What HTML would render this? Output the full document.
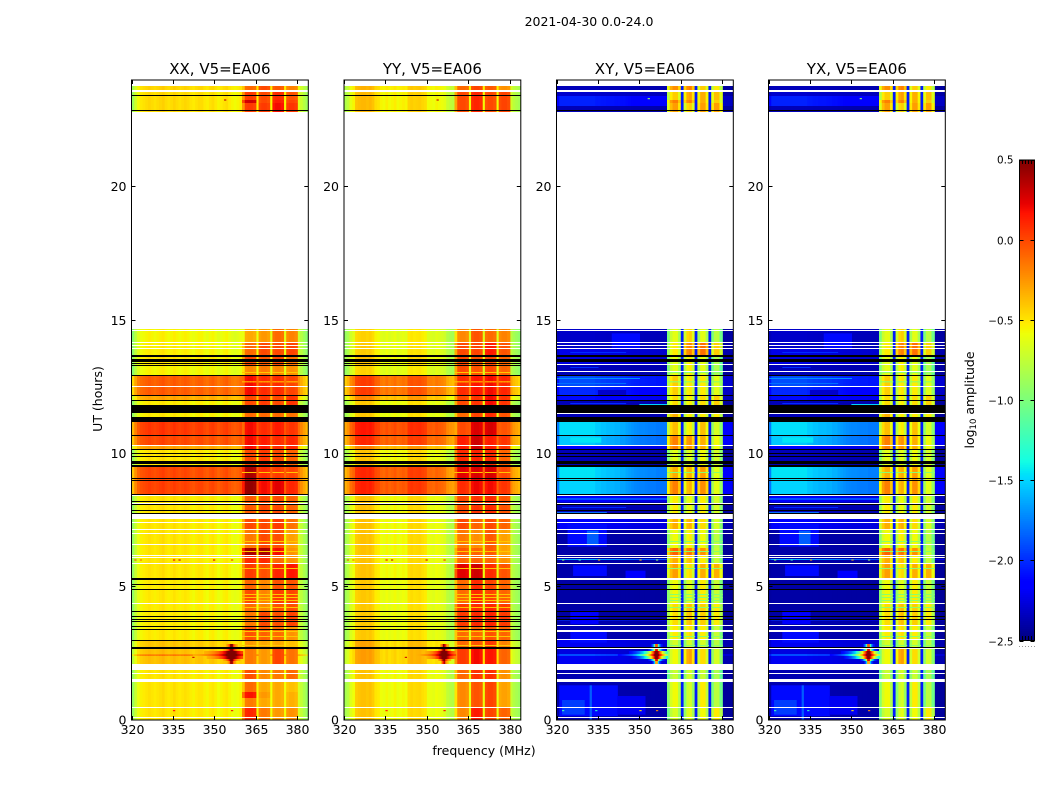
<!DOCTYPE html>
<html>
<head>
<meta charset="utf-8">
<title>2021-04-30 0.0-24.0</title>
<style>
html,body{margin:0;padding:0;background:#fff;width:1050px;height:800px;overflow:hidden}
svg{display:block}
text{font-family:"DejaVu Sans","Liberation Sans",sans-serif;fill:#000}
</style>
</head>
<body>
<svg id="figure" xmlns="http://www.w3.org/2000/svg" width="1050" height="800" viewBox="0 0 1050 800">
<rect x="0" y="0" width="1050" height="800" fill="#fff"/>
<text x="589" y="26" font-size="12.5" text-anchor="middle">2021-04-30 0.0-24.0</text>
<text x="484" y="755" font-size="12.5" text-anchor="middle">frequency (MHz)</text>
<text x="102" y="399" font-size="12.5" text-anchor="middle" transform="rotate(-90 102 399)">UT (hours)</text>
<text x="974" y="400" font-size="12.5" text-anchor="middle" transform="rotate(-90 974 400)">log<tspan font-size="8.5" dy="2">10</tspan><tspan dy="-2"> amplitude</tspan></text>
<g id="panels"></g>
<g id="colorbar"></g>
</svg>
<script>
// ---- axis ticks ----
const freqTicks = [320, 335, 350, 365, 380];
const utTicks = [0, 5, 10, 15, 20];
const colorTicks = [0.5, 0, -0.5, -1, -1.5, -2, -2.5];
const panelNames = ["XX", "YY", "XY", "YX"];

// ---- per-channel bandpass (log10 amplitude, one value per MHz from 320) ----
const xxProfile = [
-.9,-.72,-.6,-.54,-.52,-.5,-.48,-.5,-.52,-.5,
-.48,-.46,-.5,-.52,-.5,-.47,-.5,-.52,-.5,-.48,
-.5,-.53,-.55,-.52,-.5,-.5,-.54,-.56,-.52,-.5,
-.54,-.58,-.55,-.52,-.5,-.55,-.58,-.6,-.58,-.55,
-.5,-.5,-.5,-.5,-.5,-.55,-.5,-.5,-.5,-.5,
-.58,-.5,-.5,-.5,-.5,-.58,-.5,-.5,-.5,-.5,
-.66,-.74,-.82,-.9];
const yyProfile = [
-.85,-.78,-.64,-.58,-.42,-.4,-.38,-.38,-.4,-.38,
-.42,-.5,-.52,-.58,-.6,-.56,-.6,-.58,-.55,-.6,
-.58,-.56,-.58,-.47,-.45,-.47,-.46,-.45,-.48,-.5,
-.6,-.6,-.62,-.58,-.6,-.62,-.65,-.75,-.78,-.8,
-.5,-.5,-.5,-.5,-.5,-.6,-.5,-.5,-.5,-.5,
-.6,-.5,-.5,-.5,-.5,-.6,-.5,-.5,-.5,-.5,
-.72,-.8,-.84,-.88];
// cross-hand continuum shape: share of the row amplitude reached in each channel
const crossProfile = [
.7,1,1,1,1,1,1,1,1,1,
1,1,1,1,.95,.95,.92,.92,.9,.9,
.9,.88,.88,.85,.85,.82,.8,.78,.76,.75,
.74,.74,.73,.72,.72,.72,.7,.7,.7,.7,
.7,.7,.7,.7,.7,.7,.7,.7,.7,.6,
.6,.6,.6,.6,.6,.6,.6,.6,.6,.5,
.32,.3,.3,.3];

// ---- occupied sub-band channels 360..379 MHz ----
const parBlockBase = [-.4,-.12,-.1,-.1,-.13,null,-.13,-.1,-.1,-.13,null,-.13,-.1,-.1,-.13,null,-.16,-.13,-.13,-.16];
const crossBlockBase = [-1,-.72,-.62,-.62,-.85,-2.05,-.9,-.66,-.62,-.85,-2.05,-.85,-.62,-.62,-.85,-2.05,-.95,-.72,-.72,-1];
const blockOfChannel = [0,0,0,0,0,-1,1,1,1,1,-1,2,2,2,2,-1,3,3,3,3];

// ---- continuum time bands: [UT high, UT low, level] ----
const parBands = [
[23.775,23.625,.05],[23.625,22.8,.03],[14.6625,14.1375,-.05],[14.1375,13.6875,-.03],[13.6875,13.3125,0],
[13.3125,12.9375,-.05],[12.9375,12.1875,.43],[12.1875,12,.2],[12,11.3625,-.02],[11.3625,10.65,.55],
[10.65,10.275,.5],[10.275,10.125,.22],[10.125,9.4875,0],[9.4875,9,.5],[9,8.4375,.52],
[8.4375,7.5375,0],[7.5375,5.325,0],[5.325,3,-.02],[3,2.6625,.1],[2.6625,2.1,.12],[2.1,0,0]];
const crossBands = [
[23.775,23.625,.1],[23.625,23.4,.15],[23.4,23.025,.42],[23.025,22.8,.1],[14.6625,13.9125,.14],
[13.9125,13.6875,.22],[13.6875,13.3125,.2],[13.3125,12.9375,.1],[12.9375,12.4875,.55],[12.4875,12.1875,.44],
[12.1875,12,.35],[12,11.3625,.1],[11.3625,10.65,.98],[10.65,10.275,.92],[10.275,10.125,.3],
[10.125,9.4875,.1],[9.4875,9,1],[9,8.4375,.95],[8.4375,8.175,.3],[8.175,7.5375,.1],
[7.5375,7.125,.28],[7.125,6.0375,.06],[6.0375,6,.85],[6,5.25,.06],[5.25,3.7875,.05],
[3.7875,3.7313,.5],[3.7313,3,.08],[3,2.6625,.25],[2.6625,2.475,.2],[2.475,2.4,.55],
[2.4,2.1,.25],[2.1,0,.08]];

// ---- occupied sub-band time bands: four offsets per band ----
const blockBandHigh = [23.775,23.625,23.25,23.1375,14.6625,14.1375,13.6875,13.3125,12.9375,12.1875,11.8125,11.3625,10.65,10.125,9.4875,9,8.4375,7.5375,7.125,6.45,6.15,5.85,5.325,4.875,4.35,4.05,3.525,3,2.6625,2.1,1.5,1.05,.825,.4875];
const blockBandLow = [23.625,23.25,23.1375,22.8,14.1375,13.6875,13.3125,12.9375,12.1875,11.8125,11.3625,10.65,10.125,9.4875,9,8.4375,7.5375,7.125,6.45,6.15,5.85,5.325,4.875,4.35,4.05,3.525,3,2.6625,2.1,1.5,1.05,.825,.4875,0];
const xxBlockOffset = [
[0,.1,.05,-.05],[.15,.1,.2,.1],[.4,.1,.25,.15],[.15,.15,.3,.2],[-.2,-.15,0,-.05],
[0,.1,.1,.15],[.1,.05,.1,0],[-.1,-.05,-.1,-.1],[.3,.2,.2,.15],[.1,.15,.1,.2],
[0,0,0,0],[.3,.2,.25,.2],[.3,.25,.2,.25],[.1,.15,.1,.05],[.5,.2,.15,.15],
[.55,.3,.35,.25],[.05,.1,.1,.05],[.1,.1,.15,0],[-.05,.1,.08,-.15],[.5,.5,.3,-.1],
[.2,.2,0,-.1],[.15,.08,.22,.3],[.02,-.1,.08,.1],[.1,-.08,.15,.15],[0,-.1,.08,.12],
[-.05,.1,.08,.15],[.08,.03,0,-.1],[-.15,-.2,-.2,-.25],[-.05,-.15,.12,0],[.08,-.1,-.05,.03],
[0,-.2,-.2,-.25],[.28,-.15,-.2,-.2],[-.05,-.2,-.2,-.2],[.22,-.05,-.15,-.1]];
const yyBlockOffset = [
[0,.12,.05,-.1],[.1,.22,.1,.15],[.1,.22,.1,.15],[.1,.22,.1,.15],[-.1,.07,0,-.05],
[.1,.12,.25,.1],[.1,.07,.1,.05],[.1,.07,.1,.05],[.2,.27,.3,.25],[.1,.17,.3,.2],
[0,.12,.2,.1],[.1,.37,.38,.1],[.25,.4,.25,.2],[.2,.22,.2,.05],[.35,.37,.38,.15],
[.2,.32,.3,.2],[.1,.17,.2,.1],[.1,.02,.1,.05],[-.05,-.12,.05,-.15],[.05,.02,.05,-.15],
[0,.02,0,-.1],[.35,.4,.2,.1],[0,.2,.12,.05],[0,.2,.12,.05],[.15,.2,.22,.18],
[.15,.2,.22,.18],[0,.02,.08,.05],[0,.07,.15,-.05],[.15,.3,.27,.05],[0,.17,.18,-.1],
[-.1,.07,.12,-.15],[-.1,.07,.12,-.15],[-.1,.07,.12,-.15],[-.1,.25,.12,.05]];
const crossBlockOffset = [
[.4,.45,.2,.2],[.2,.35,.3,.35],[.45,.45,.3,.3],[.35,.2,.35,.45],[0,.2,0,-.05],
[.1,.45,.5,.3],[0,.1,0,-.1],[0,.1,0,-.1],[.2,.12,.1,.1],[.15,.1,.15,.3],
[.3,.1,.1,.2],[.25,.1,.25,.05],[.45,.4,.3,.15],[0,0,.05,.05],[.3,.3,.35,.1],
[.45,.3,.4,.1],[.1,.05,.1,.05],[.3,.3,.15,.05],[.05,.1,.05,-.05],[.55,.5,.4,0],
[.3,.25,.1,0],[.35,.15,.3,.4],[.05,0,.1,0],[.05,0,.1,0],[.15,.25,.2,.2],
[.15,.25,.2,.2],[.1,.15,.1,0],[-.05,-.05,-.05,-.05],[.05,.35,.15,.05],[-.1,-.05,-.1,-.1],
[.05,-.05,.1,-.05],[.05,-.05,.1,-.05],[.05,-.05,.1,-.05],[-.05,0,.05,.2]];

// ---- thin paler integrations across the occupied sub-bands: [UT high, UT low] ----
const blockStripes = [[4.725,4.6875],[4.6125,4.575],[4.5,4.4625],[4.2375,4.2],[3.3375,3.3],[3.15,3.1125],[2.8125,2.775],[6.7125,6.675],[6.3375,6.3],[5.7,5.6625],[13.05,13.0125],[12.7,12.6625],[9.3,9.2625],[8.1,8.0625]];
const parStripeValue = -.4;
const crossStripeValue = -.95;

// ---- cross-hand sky patches and streaks: [UT high, UT low, MHz low, MHz high, log10 amplitude] ----
const crossPatches = [
[14.5,13.95,340,350,-2.1],[10.6,10.4,325,336,-1.45],[7.35,6.5,324,338,-2.1],[7.1,6.55,331,335,-1.85],
[5.8,5.4,326,338,-2.1],[5.6,5.3,345,352,-2.15],[4.1,3.6,325,335,-2.15],
[1.3,.15,321,342,-2.1],[.75,.2,322,330,-1.95],[.9,.2,342,352,-2.2],[1.3,0,332,332.6,-1.85],[3.3,2.9,325,338,-2.1],
[13.8,13.7625,325,345,-2],[13.2375,13.2,325,335,-2],[12.825,12.7875,320,350,-1.7],[12.6375,12.6,320,345,-1.8],
[12.375,12.1875,335,345,-2.3],[11.8875,11.85,325,345,-2],[8.325,8.25,320,360,-1.9],[7.9875,7.95,322,345,-2],
[7.8,7.7625,320,338,-1.8],[11.85,11.8125,350,360,-1.5]];

// ---- interference burst near 356 MHz: [UT high, UT low, half width in MHz] ----
const rfiCentre = 356.2;
const rfiPeak = .9;
const rfiRows = [[2.85,2.7375,2],[2.6625,2.5875,3],[2.5875,2.475,10],[2.475,2.4,14],[2.4,2.2875,9],[2.2875,2.2125,3],[2.2125,2.1,1.5]];
const rfiSpread = [1, .7, 1, 1];

// ---- extra parallel-hand detail ----
const xxDarkRows = [[2.4563,2.4125,.42]];
const parSpots = [[353.5,23.6,.4],[353.5,23.25,.35],[321,6,.0],[323,6,-.1],[335,6,.2],[337,6,.3],[349.5,6,.25],[356,6,.1],[342,2.35,.3],[335,.35,.15],[356,.35,.2]];
const crossSpots = [[353,23.3,-.9],[322,.35,-1.2],[334,.35,-1.3],[350,.35,-.5],[356,.35,-.2],[335,6,-.3],[322,6,-.9],[328,6,-1.2],[350,6,-.4],[356,6,-.9]];

// ---- flagged integrations: [UT high, UT low] ----
const whiteRows = [
[23.625,23.55],[14.625,14.5875],[14.175,14.1375],[14.0625,14.025],[13.95,13.9125],[12.525,12.4875],
[10.3125,10.275],[8.4375,8.4],[8.1375,8.1],[7.725,7.5375],[7.425,7.3875],[7.1625,7.125],[7.0125,6.975],
[6.6,6.5625],[6.1875,6.15],[6.1125,6.075],[5.8875,5.85],[4.3875,4.35],[2.1,1.875],[1.7625,1.725],
[1.5375,1.425],[.4875,.45],[.1125,.075]];
const crossWhiteRows = [[13.35,13.3125],[13.0875,13.05],[11.5125,11.475],[5.325,5.25],[3.5625,3.525],[3.375,3.3],[3.0375,3],[2.7,2.6625]];
const parBlackRows = [
[23.4375,23.4],[22.875,22.8375],[13.6875,13.6125],[13.5375,13.425],[13.3875,13.35],[13.3125,13.275],
[12.9375,12.9],[12.1875,12.15],[12,11.9625],[11.8125,11.5125],[11.3625,11.175],[10.6875,10.65],
[10.1625,10.125],[10.0125,9.975],[9.9,9.8625],[9.7125,9.6],[9.5625,9.4875],[9.075,9.0375],[9,8.9625],
[8.475,8.4375],[8.2125,8.175],[8.1,8.0625],[7.875,7.8375],[7.7625,7.725],[5.325,5.25],[5.1,5.0625],
[4.9125,4.875],[4.0875,4.05],[3.9,3.8625],[3.7875,3.75],[3.7125,3.675],[3.525,3.4875],[3.4125,3.375],
[3,2.9625],[2.7375,2.6625]];
const crossBlackRows = [
[22.875,22.8375],[13.6875,13.6125],[13.5375,13.425],[12.9375,12.9],[12.1875,12.15],[12,11.9625],
[11.8125,11.5125],[11.3625,11.175],[10.6875,10.65],[10.1625,10.125],[10.0125,9.975],[9.9,9.8625],
[9.7125,9.6],[9.5625,9.4875],[9.075,9.0375],[9,8.9625],[8.475,8.4375],[8.1,8.0625],[7.875,7.8375],
[7.7625,7.725],[5.1,5.0625],[4.9125,4.875],[4.0875,4.05],[3.9,3.8625],[3.7875,3.75],[2.7375,2.7]];

const SVGNS = "http://www.w3.org/2000/svg";
const F_MIN = 320, F_MAX = 384, UT_MAX = 24, V_MIN = -2.5, V_MAX = 0.5;
const AX_TOP = 80, AX_BOTTOM = 720, AX_WIDTH = 176.8;
const panelLeft = [131.5, 344, 556.5, 768.5];

function clamp01(t){ return Math.max(0, Math.min(1, t)); }
function jet(v){
  const t = clamp01((v - V_MIN) / (V_MAX - V_MIN));
  const r = t < .35 ? 0 : t < .66 ? (t - .35) / .31 : t < .89 ? 1 : 1 - (t - .89) / .11 * .5;
  const g = t < .125 ? 0 : t < .375 ? (t - .125) / .25 : t < .64 ? 1 : t < .91 ? 1 - (t - .64) / .27 : 0;
  const b = t < .11 ? .5 + t / .11 * .5 : t < .34 ? 1 : t < .65 ? 1 - (t - .34) / .31 : 0;
  return "rgb(" + Math.round(r * 255) + "," + Math.round(g * 255) + "," + Math.round(b * 255) + ")";
}
function yOfUt(h){ return AX_BOTTOM - h / UT_MAX * (AX_BOTTOM - AX_TOP); }
function xOfFreq(left, f){ return left + (f - F_MIN) / (F_MAX - F_MIN) * AX_WIDTH; }
function yOfValue(v){ return 640.5 - (v - V_MIN) / (V_MAX - V_MIN) * 480.5; }

function makeRect(parent, x, y, w, h, fill){
  const r = document.createElementNS(SVGNS, "rect");
  r.setAttribute("x", x.toFixed(2));
  r.setAttribute("y", y.toFixed(2));
  r.setAttribute("width", Math.max(w, 0).toFixed(2));
  r.setAttribute("height", Math.max(h, 0).toFixed(2));
  r.setAttribute("fill", fill);
  parent.appendChild(r);
  return r;
}
function makeLine(parent, x1, y1, x2, y2, stroke){
  const l = document.createElementNS(SVGNS, "line");
  l.setAttribute("x1", x1);
  l.setAttribute("y1", y1);
  l.setAttribute("x2", x2);
  l.setAttribute("y2", y2);
  l.setAttribute("stroke", stroke);
  l.setAttribute("stroke-width", "1");
  parent.appendChild(l);
  return l;
}
function makeText(parent, x, y, str, size, anchor){
  const t = document.createElementNS(SVGNS, "text");
  t.setAttribute("x", x);
  t.setAttribute("y", y);
  t.setAttribute("font-size", size);
  t.setAttribute("text-anchor", anchor);
  t.textContent = str;
  parent.appendChild(t);
  return t;
}
function drawCell(g, left, f0, f1, hHigh, hLow, value){
  const x0 = xOfFreq(left, f0), x1 = xOfFreq(left, f1);
  const y0 = yOfUt(hHigh), y1 = yOfUt(hLow);
  const cell = makeRect(g, x0, y0, x1 - x0 + .6, y1 - y0, jet(value));
  
  
}
function drawFlag(g, left, row, color){
  const y0 = yOfUt(row[0]), y1 = yOfUt(row[1]);
  const flag = makeRect(g, left, y0, AX_WIDTH, y1 - y0, color);
  
  
}

function drawPanel(root, p){
  const name = panelNames[p], left = panelLeft[p];
  const isCross = name === "XY" || name === "YX";
  const g = document.createElementNS(SVGNS, "g");
  
  
  root.appendChild(g);

  const clip = document.createElementNS(SVGNS, "clipPath");
  clip.setAttribute("id", "clip-" + name);
  const cr = makeRect(clip, left, AX_TOP, AX_WIDTH, AX_BOTTOM - AX_TOP, "#000");
  
  
  g.appendChild(clip);

  const cells = document.createElementNS(SVGNS, "g");
  cells.setAttribute("clip-path", "url(#clip-" + name + ")");
  
  
  g.appendChild(cells);

  const profile = name === "XX" ? xxProfile : yyProfile;
  const bands = isCross ? crossBands : parBands;
  for (const band of bands) {
    for (let c = 0; c < 64; c++) {
      const v = isCross ? -2.45 + band[2] * crossProfile[c] : profile[c] + band[2];
      drawCell(cells, left, F_MIN + c, F_MIN + c + 1, band[0], band[1], v);
    }
  }
  if (isCross) {
    for (const pt of crossPatches) {
      drawCell(cells, left, pt[2], pt[3], pt[0], pt[1], pt[4]);
    }
  }
  if (name === "XX") {
    for (const d of xxDarkRows) {
      for (let c = 0; c < 64; c++) {
        drawCell(cells, left, F_MIN + c, F_MIN + c + 1, d[0], d[1], profile[c] + d[2]);
      }
    }
  }
  const offsets = isCross ? crossBlockOffset : (name === "XX" ? xxBlockOffset : yyBlockOffset);
  const base = isCross ? crossBlockBase : parBlockBase;
  for (let b = 0; b < blockBandHigh.length; b++) {
    for (let k = 0; k < base.length; k++) {
      if (base[k] === null) continue;
      const idx = blockOfChannel[k];
      const v = base[k] + (idx >= 0 ? offsets[b][idx] : 0);
      drawCell(cells, left, 360 + k, 361 + k, blockBandHigh[b], blockBandLow[b], v);
    }
  }
  for (const st of blockStripes) {
    for (let k = 0; k < base.length; k++) {
      if (blockOfChannel[k] < 0) continue;
      drawCell(cells, left, 360 + k, 361 + k, st[0], st[1], isCross ? crossStripeValue : parStripeValue);
    }
  }
  const floorValue = isCross ? -2.35 : -.42;
  for (const row of rfiRows) {
    const half = row[2] * rfiSpread[p];
    for (let f = rfiCentre - half; f < Math.min(rfiCentre + half, 360); f += .5) {
      const d = Math.abs(f + .25 - rfiCentre);
      const v = floorValue + (rfiPeak - floorValue) * Math.exp(-d / (half * .36));
      drawCell(cells, left, f, f + .5, row[0], row[1], v);
    }
  }
  const spots = isCross ? crossSpots : parSpots;
  for (const s of spots) {
    drawCell(cells, left, s[0], s[0] + .6, s[1] + .02, s[1] - .02, s[2]);
  }
  for (const row of whiteRows) drawFlag(cells, left, row, "#fff");
  if (isCross) {
    for (const row of crossWhiteRows) drawFlag(cells, left, row, "#fff");
    for (const row of crossBlackRows) drawFlag(cells, left, row, "#000");
  } else {
    for (const row of parBlackRows) drawFlag(cells, left, row, "#000");
  }

  const right = left + AX_WIDTH;
  for (const f of freqTicks) {
    const x = Math.round(xOfFreq(left, f)) + .5;
    const tb = makeLine(g, x, AX_BOTTOM, x, AX_BOTTOM - 4, "#000");
    
    
    const tt = makeLine(g, x, AX_TOP, x, AX_TOP + 4, "#000");
    
    
    const lb = makeText(g, x, 734, String(f), 12.5, "middle");
    
    
  }
  for (const h of utTicks) {
    const y = Math.floor(yOfUt(h)) + (h === 0 ? 0 : .5);
    const tl = makeLine(g, left, y, left + 4, y, "#000");
    
    
    const tr = makeLine(g, right - 4, y, right, y, "#000");
    
    
    const lb = makeText(g, left - 5, y + 4.5, String(h), 12.5, "end");
    
    
  }
  const frame = makeRect(g, left, AX_TOP, AX_WIDTH, AX_BOTTOM - AX_TOP, "none");
  frame.setAttribute("stroke", "#000");
  frame.setAttribute("stroke-width", "1");
  
  
  const title = makeText(g, left + AX_WIDTH / 2, 74, name + ", V5=EA06", 15, "middle");
  
  
}

function drawColorbar(root){
  const x0 = 1019.5, w = 15;
  for (let i = 0; i < 240; i++) {
    const vLow = V_MIN + i / 240 * (V_MAX - V_MIN);
    const vHigh = V_MIN + (i + 1) / 240 * (V_MAX - V_MIN);
    const y1 = yOfValue(vLow), y0 = yOfValue(vHigh);
    const seg = makeRect(root, x0, y0, w, y1 - y0 + .5, jet((vLow + vHigh) / 2));
    
    
  }
  for (const v of colorTicks) {
    const y = Math.round(yOfValue(v)) + .5;
    const a = makeLine(root, x0, y, x0 + 4, y, "#000");
    
    
    const b = makeLine(root, x0 + w - 4, y, x0 + w, y, "#000");
    
    
    const str = (v < 0 ? "\u2212" : "") + Math.abs(v).toFixed(1);
    const lb = makeText(root, 1013.5, y + (v === 0.5 ? 3 : 4), str, 10.4, "end");
    
    
  }
  for (let k = 0; k < 6; k++) {
    const x = x0 + k * 3;
    const tickTop = makeLine(root, x, 160, x, 164, "#000");
    
    
    const tickBottom = makeLine(root, x, 636, x, 640, "#000");
    
    
    const dot = makeRect(root, x - .5, 646, 1, 1, "#999");
    
    
  }
  const frame = makeRect(root, x0, 160, w, 480.5, "none");
  frame.setAttribute("stroke", "#000");
  frame.setAttribute("stroke-width", "1");
  
  
}

const panelsRoot = document.getElementById("panels");
for (let p = 0; p < panelNames.length; p++) drawPanel(panelsRoot, p);
drawColorbar(document.getElementById("colorbar"));
</script>
</body>
</html>
